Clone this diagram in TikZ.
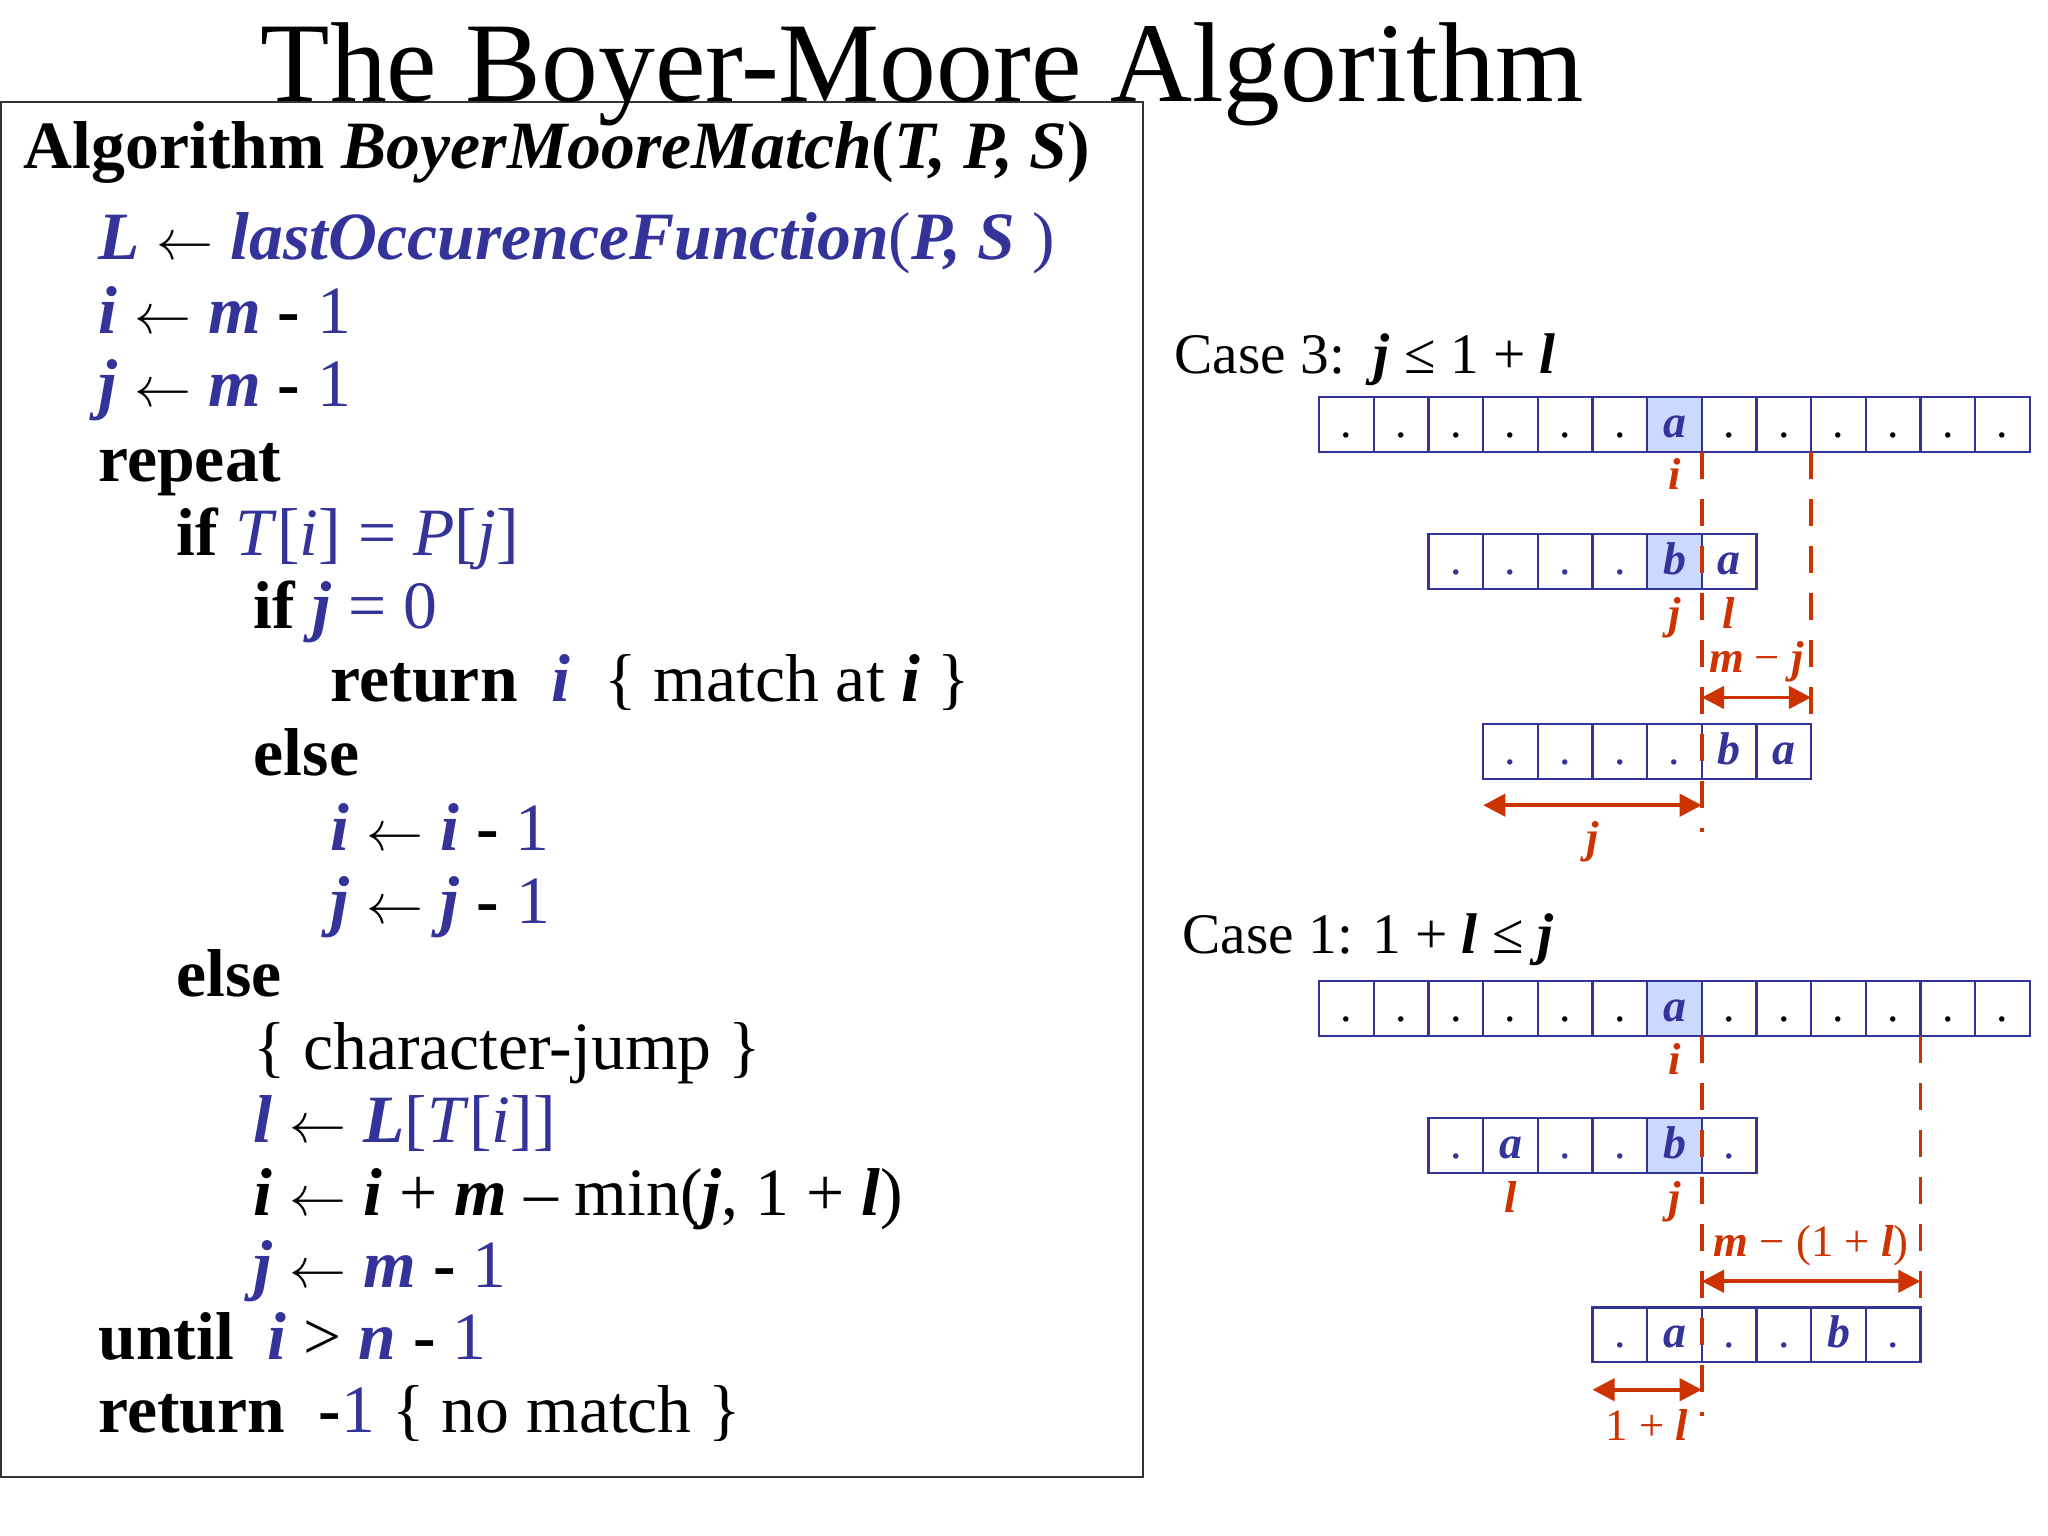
\documentclass[tikz,border=0pt]{standalone}
\usepackage{fontspec}
\setmainfont{Liberation Serif}
\usepackage{xcolor}
\usepackage{tikz}
\usetikzlibrary{positioning,arrows.meta,calc}
\definecolor{CodeBlue}{HTML}{333399}
\definecolor{CellFill}{HTML}{CCD9FF}
\definecolor{GuideRed}{HTML}{CC3300}
\definecolor{FrameGray}{HTML}{333333}
\newcommand{\bfit}[1]{\textbf{\textit{#1}}}
\newcommand{\blu}[1]{\textcolor{CodeBlue}{#1}}
\newcommand{\cellch}[1]{\textcolor{CodeBlue}{\bfit{#1}}}
\newcommand{\getsto}{\textcolor{black}{$\leftarrow$}}

\begin{document}
\begin{tikzpicture}[x=0.02cm,y=-0.02cm,
    codeline/.style={anchor=base west, inner sep=0pt, font=\fontsize{29.5}{34}\selectfont},
    caselabel/.style={anchor=base west, inner sep=0pt, font=\fontsize{25}{30}\selectfont},
    redlabel/.style={anchor=base, inner sep=0pt, text=GuideRed, font=\fontsize{19.5}{23}\selectfont},
    cell/.style={draw=CodeBlue, line width=1pt, minimum width=0.837cm, minimum height=0.84cm,
                 inner sep=0pt, outer sep=0pt, text height=0.4cm, text depth=0pt,
                 font=\fontsize{20}{24}\selectfont},
    hl/.style={fill=CellFill},
    guide/.style={GuideRed, line width=1.5pt, dash pattern=on 0.42cm off 0.3cm},
    dim/.style={GuideRed, line width=1.7pt,
                {Triangle[length=0.34cm,width=0.34cm]}-{Triangle[length=0.34cm,width=0.34cm]}}]
  \useasboundingbox (0,0) rectangle (1568,1176);

  % title and code frame
  \draw[FrameGray, line width=1pt] (1,78) rectangle (875,1131);
  \node[anchor=base, inner sep=0pt, font=\fontsize{49.5}{56}\selectfont] (title) at (706,78)
    {The Boyer-Moore Algorithm};

  \node[codeline] (alg) at (18,129)
    {\textbf{Algorithm \textit{BoyerMooreMatch}(\textit{T, P, S})}};
  \node[codeline] (ln1) at (75,199)
    {\blu{\bfit{L}} \getsto{} \blu{\bfit{lastOccurenceFunction}(\bfit{P, S} )}};
  \node[codeline] (ln2) at (75,255) {\blu{\bfit{i}} \getsto{} \blu{\bfit{m}} \textbf{-} \blu{1}};
  \node[codeline] (ln3) at (75,311.5) {\blu{\bfit{j}} \getsto{} \blu{\bfit{m}} \textbf{-} \blu{1}};
  \node[codeline] (ln4) at (75,369) {\textbf{repeat}};
  \node[codeline] (ln5) at (135,425)
    {\textbf{if} \blu{\textit{T}[\textit{i}] = \textit{P}[\textit{j}]}};
  \node[codeline] (ln6) at (194,481) {\textbf{if} \blu{\bfit{j} = 0}};
  \node[codeline] (ln7) at (253,537)
    {\textbf{return}\ \ \blu{\bfit{i}}\ \ \{ match at \bfit{i} \}};
  \node[codeline] (ln8) at (194,593.5) {\textbf{else}};
  \node[codeline] (ln9) at (253,651) {\blu{\bfit{i}} \getsto{} \blu{\bfit{i}} \textbf{-} \blu{1}};
  \node[codeline] (ln10) at (253,707) {\blu{\bfit{j}} \getsto{} \blu{\bfit{j}} \textbf{-} \blu{1}};
  \node[codeline] (ln11) at (135,763) {\textbf{else}};
  \node[codeline] (ln12) at (194,819) {\{ character-jump \}};
  \node[codeline] (ln13) at (194,875)
    {\blu{\bfit{l}} \getsto{} \blu{\bfit{L}[\textit{T}[\textit{i}]]}};
  \node[codeline] (ln14) at (194,930.5)
    {\bfit{i} \getsto{} \bfit{i} + \bfit{m} – min(\bfit{j}, 1 + \bfit{l})};
  \node[codeline] (ln15) at (194,986) {\blu{\bfit{j}} \getsto{} \blu{\bfit{m}} \textbf{-} \blu{1}};
  \node[codeline] (ln16) at (75,1041)
    {\textbf{until}\ \ \blu{\bfit{i}} > \blu{\bfit{n}} \textbf{-} \blu{1}};
  \node[codeline] (ln17) at (75,1097)
    {\textbf{return}\ \ \textbf{-}\blu{1} \{ no match \}};

  % case 3
  \node[caselabel] (case3) at (899,285.6) {Case 3:\ \ \bfit{j} ≤ 1 + \bfit{l}};
  \foreach \c/\opt [count=\k from 0] in {./,./,./,./,./,./,\cellch{a}/hl,./,./,./,./,./,./}
    \node[cell,\opt] (t3-\k) at ({1010+(\k+0.5)*41.85},325) {\c};
  \foreach \c/\opt [count=\k from 0] in {./,./,./,./,\bfit{b}/hl,\bfit{a}/}
    \node[cell,text=CodeBlue,\opt] (p3a-\k) at ({1010+(\k+2.5)*41.85},430) {\c};
  \foreach \c/\opt [count=\k from 0] in {./,./,./,./,\bfit{b}/,\bfit{a}/}
    \node[cell,text=CodeBlue,\opt] (p3b-\k) at ({1010+(\k+3.5)*41.85},575.5) {\c};

  \coordinate (e3a) at ($(t3-6.south east)+(0,291)$);
  \coordinate (e3b) at ($(t3-8.south east)+(0,202)$);
  \draw[guide] (t3-6.south east) -- (e3a);
  \draw[guide] (t3-8.south east) -- (e3b);
  \draw[dim] ($(t3-6.south east)+(0,188)$) -- ($(t3-8.south east)+(0,188)$);
  \draw[dim] ($(p3b-0.south west)+(0,20)$) -- ($(p3b-3.south east)+(0,20)$);

  \node[redlabel] (i3) at ($(t3-6.south)+(0,29)$) {\bfit{i}};
  \node[redlabel] (j3) at ($(p3a-4.south)+(0,30)$) {\bfit{j}};
  \node[redlabel] (l3) at ($(p3a-5.south)+(0,30)$) {\bfit{l}};
  \node[redlabel] (mj3) at ($(p3a-5.south east)+(0,64)$) {\bfit{m} − \bfit{j}};
  \node[redlabel] (jj3) at ($(p3b-1.south east)+(0,56)$) {\bfit{j}};

  % case 1
  \node[caselabel] (case1) at (905,730) {Case 1: 1 + \bfit{l} ≤ \bfit{j}};
  \foreach \c/\opt [count=\k from 0] in {./,./,./,./,./,./,\cellch{a}/hl,./,./,./,./,./,./}
    \node[cell,\opt] (t1-\k) at ({1010+(\k+0.5)*41.85},772) {\c};
  \foreach \c/\opt [count=\k from 0] in {./,\bfit{a}/,./,./,\bfit{b}/hl,./}
    \node[cell,text=CodeBlue,\opt] (p1a-\k) at ({1010+(\k+2.5)*41.85},877) {\c};
  \foreach \c/\opt [count=\k from 0] in {./,\bfit{a}/,./,./,\bfit{b}/,./}
    \node[cell,text=CodeBlue,\opt] (p1b-\k) at ({1010+(\k+5.5)*41.85},1022) {\c};

  \coordinate (e1a) at ($(t1-6.south east)+(0,291)$);
  \coordinate (e1b) at ($(t1-10.south east)+(0,202)$);
  \draw[guide] (t1-6.south east) -- (e1a);
  \draw[guide] (t1-10.south east) -- (e1b);
  \draw[dim] ($(t1-6.south east)+(0,188)$) -- ($(t1-10.south east)+(0,188)$);
  \draw[dim] ($(p1b-0.south west)+(0,21)$) -- ($(p1b-1.south east)+(0,21)$);

  \node[redlabel] (i1) at ($(t1-6.south)+(0,30)$) {\bfit{i}};
  \node[redlabel] (l1) at ($(p1a-1.south)+(0,30)$) {\bfit{l}};
  \node[redlabel] (j1) at ($(p1a-4.south)+(0,30)$) {\bfit{j}};
  \node[redlabel] (ml1) at ($(t1-8.south east)+(0,169)$) {\bfit{m} − (1 + \bfit{l})};
  \node[redlabel] (ol1) at ($(p1b-0.south east)+(0,60)$) {1 + \bfit{l}};
\end{tikzpicture}
\end{document}
